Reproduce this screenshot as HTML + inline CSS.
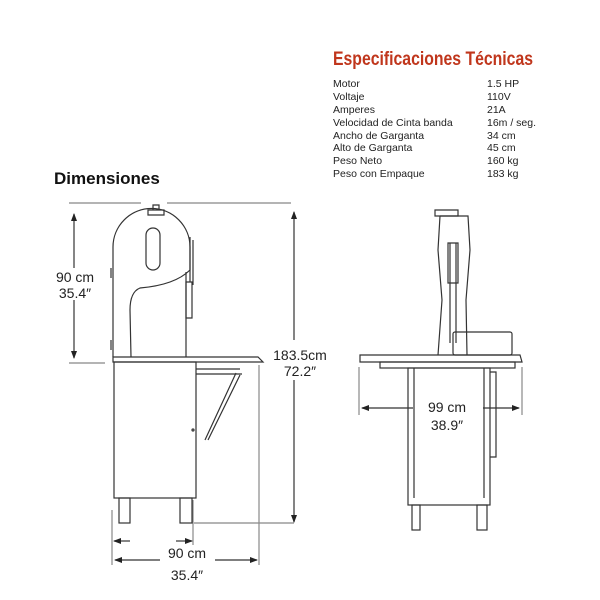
<!DOCTYPE html>
<html><head><meta charset="utf-8"><style>
html,body{margin:0;padding:0;background:#fff;}
svg{display:block;}
text{font-family:"Liberation Sans",sans-serif;}
</style></head><body>
<svg width="600" height="600" viewBox="0 0 600 600" xmlns="http://www.w3.org/2000/svg">
<defs>
<marker id="a" markerWidth="8" markerHeight="8" refX="7" refY="4" orient="auto" markerUnits="userSpaceOnUse"><path d="M0,1 L8,4 L0,7Z" fill="#222"/></marker>
</defs>
<text x="333" y="65" font-size="19" font-weight="bold" fill="#c0361c" textLength="200" lengthAdjust="spacingAndGlyphs">Especificaciones Técnicas</text>
<g font-size="10.5" fill="#222">
<text x="333" y="87">Motor</text><text x="487" y="87">1.5 HP</text>
<text x="333" y="100">Voltaje</text><text x="487" y="100">110V</text>
<text x="333" y="113">Amperes</text><text x="487" y="113">21A</text>
<text x="333" y="126">Velocidad de Cinta banda</text><text x="487" y="126">16m / seg.</text>
<text x="333" y="139">Ancho de Garganta</text><text x="487" y="139">34 cm</text>
<text x="333" y="151">Alto de Garganta</text><text x="487" y="151">45 cm</text>
<text x="333" y="164">Peso Neto</text><text x="487" y="164">160 kg</text>
<text x="333" y="177">Peso con Empaque</text><text x="487" y="177">183 kg</text>
</g>
<text x="54" y="184" font-size="17" font-weight="bold" fill="#111">Dimensiones</text>

<g stroke="#333" fill="none" stroke-width="1.2">
<line x1="69" y1="203" x2="141" y2="203" stroke="#888"/><line x1="167" y1="203" x2="291" y2="203" stroke="#888"/>
<line x1="69" y1="363" x2="105" y2="363" stroke="#888"/>
<line x1="194" y1="523" x2="294" y2="523" stroke="#888"/>
<line x1="74" y1="268" x2="74" y2="214" marker-end="url(#a)"/>
<line x1="74" y1="300" x2="74" y2="358" marker-end="url(#a)"/>
<line x1="294" y1="340" x2="294" y2="212" marker-end="url(#a)"/>
<line x1="294" y1="380" x2="294" y2="522" marker-end="url(#a)"/>
<line x1="112" y1="510" x2="112" y2="565" stroke="#888"/>
<line x1="193" y1="500" x2="193" y2="545" stroke="#888"/>
<line x1="259" y1="365" x2="259" y2="565" stroke="#888"/>
<line x1="130" y1="541" x2="114" y2="541" marker-end="url(#a)"/>
<line x1="176" y1="541" x2="192" y2="541" marker-end="url(#a)"/>
<line x1="160" y1="560" x2="115" y2="560" marker-end="url(#a)"/>
<line x1="215" y1="560" x2="257" y2="560" marker-end="url(#a)"/>
<path d="M113,357 L113,247 A38.5,38.5 0 0 1 190,247 L190,270 Q175,285 140,288 Q130,292 130,310 L131,357"/>
<path d="M186,272 L186,357"/>
<rect x="146" y="228" width="14" height="42" rx="7"/>
<path d="M148,210 h16 v5 h-16z M153,205 h6 v5 h-6z"/>
<path d="M190,237 v45 M193,240 v45 M186,282 h6 v36 h-6z"/>
<path d="M111,268 v10 M111,340 v10"/>
<path d="M113,357 L258,357 L263,362 L113,362 Z"/>
<rect x="114" y="362" width="82" height="136"/>
<rect x="119" y="498" width="11" height="25"/><rect x="180" y="498" width="12" height="25"/>
<path d="M196,369 L240,369 M196,374 L242,374 M236,373 L205,440 M240,375 L208,440"/>
<circle cx="193" cy="430" r="1"/>
<line x1="359" y1="367" x2="359" y2="415" stroke="#888"/>
<line x1="522" y1="367" x2="522" y2="415" stroke="#888"/>
<line x1="413" y1="408" x2="362" y2="408" marker-end="url(#a)"/>
<line x1="483" y1="408" x2="519" y2="408" marker-end="url(#a)"/>
<path d="M435,210 h23 v6 h-23z"/>
<path d="M440,216 L468,216 L470,250 L466,300 L467,355 M440,216 L438,250 L442,300 L438,355"/>
<path d="M448,243 h10 v40 h-10z M450,243 v100 M456,243 v100"/>
<rect x="453" y="332" width="59" height="23" rx="2"/>
<path d="M360,355 L520,355 L522,362 L360,362 Z"/>
<rect x="380" y="362" width="135" height="6"/>
<rect x="408" y="368" width="82" height="137"/>
<path d="M414,368 v130 M484,368 v130 M490,372 h6 v85 h-6"/>
<rect x="412" y="505" width="8" height="25"/><rect x="477" y="505" width="10" height="25"/>
</g>
<g fill="#222" text-anchor="middle">
<text x="75" y="282" font-size="14">90 cm</text>
<text x="75" y="298" font-size="14">35.4″</text>
<text x="300" y="360" font-size="14">183.5cm</text>
<text x="300" y="376" font-size="14">72.2″</text>
<text x="187" y="558" font-size="14">90 cm</text>
<text x="187" y="580" font-size="14">35.4″</text>
<text x="447" y="412" font-size="14">99 cm</text>
<text x="447" y="430" font-size="14">38.9″</text>
</g>
</svg>
</body></html>
